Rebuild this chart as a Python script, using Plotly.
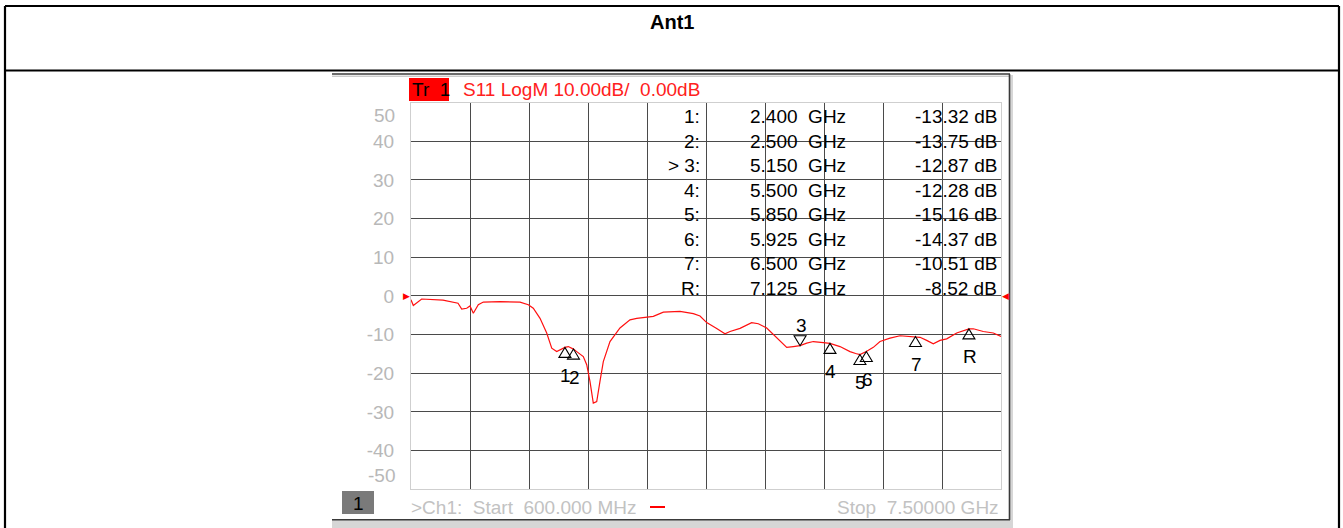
import plotly.graph_objects as go

W, H = 1343, 528

# trace (GHz, dB)
freq_ghz = [0.600, 0.627, 0.725, 0.974, 1.150, 1.193, 1.251, 1.290, 1.329, 1.387,
            1.446, 1.641, 1.875, 1.972, 2.030, 2.109, 2.187, 2.246, 2.304, 2.400,
            2.440, 2.500, 2.538, 2.615, 2.655, 2.693, 2.732, 2.772, 2.810, 2.849,
            2.927, 3.044, 3.161, 3.240, 3.434, 3.551, 3.746, 3.902, 3.980, 4.058,
            4.175, 4.272, 4.331, 4.448, 4.584, 4.662, 4.760, 4.877, 4.994, 5.071,
            5.150, 5.228, 5.305, 5.422, 5.500, 5.617, 5.734, 5.800, 5.850, 5.925,
            6.007, 6.085, 6.202, 6.319, 6.500, 6.553, 6.631, 6.708, 6.787, 6.865,
            6.982, 7.099, 7.125, 7.176, 7.293, 7.410, 7.500]
s11_db = [-1.0, -2.5, -0.8, -1.1, -1.9, -3.4, -3.2, -2.6, -4.5, -2.3,
          -1.6, -1.5, -1.6, -2.3, -3.2, -5.8, -9.6, -13.5, -14.4, -13.32,
          -13.1, -13.75, -14.4, -15.7, -17.8, -22.1, -27.7, -27.3, -22.1, -17.0,
          -11.8, -8.3, -6.2, -5.8, -5.3, -4.2, -4.0, -4.6, -5.2, -6.9,
          -8.4, -9.8, -9.2, -8.4, -6.9, -7.2, -8.3, -10.9, -13.3, -13.1,
          -12.87, -12.2, -11.8, -12.1, -12.28, -13.1, -14.4, -14.9, -15.16, -14.37,
          -13.3, -11.8, -10.9, -10.3, -10.51, -10.7, -11.5, -12.4, -11.5, -11.1,
          -9.6, -8.6, -8.52, -8.5, -9.2, -9.6, -10.5]

# markers
mk_names = ['1', '2', '3', '4', '5', '6', '7', 'R']
mk_freq = [2.400, 2.500, 5.150, 5.500, 5.850, 5.925, 6.500, 7.125]
mk_db = [-13.32, -13.75, -12.87, -12.28, -15.16, -14.37, -10.51, -8.52]
active_mk = '3'

f_start, f_stop = 0.6, 7.5
db_top, db_bot = 50, -50
n_div = 10

FONT = 'Liberation Sans, Arial, sans-serif'
NB = '\u00a0'


def px(x):
    return x / W


def py(y):
    return 1 - y / H


def label(text, x, y, anchor='left', color='black', size=19, **kw):
    # plain text placed by pixel position on the page
    d = dict(text=text, xref='paper', yref='paper', x=px(x), y=py(y), xanchor=anchor,
             yanchor='middle', showarrow=False, font=dict(family=FONT, size=size, color=color))
    d.update(kw)
    return d


fig = go.Figure()
fig.add_trace(go.Scatter(x=freq_ghz, y=s11_db, mode='lines',
                         line=dict(color='#ff1010', width=1.2),
                         hoverinfo='skip', showlegend=False))

xstep = (f_stop - f_start) / n_div
ystep = (db_top - db_bot) / n_div
xgrid = [f_start + i * xstep for i in range(1, n_div)]
ygrid = [db_bot + i * ystep for i in range(1, n_div)]

shapes = []
ann = []

# ---- outer table
for x0, y0, x1, y1 in [(5, 6, 1339, 6), (5, 6, 5, 528), (1339, 6, 1339, 528), (5, 70.5, 1339, 70.5)]:
    shapes.append(dict(type='line', xref='paper', yref='paper', x0=px(x0), y0=py(y0),
                       x1=px(x1), y1=py(y1), line=dict(color='black', width=2.2)))
ann.append(label('<b>Ant1</b>', 672, 22, anchor='center', size=20))

# ---- analyzer screen frame
shapes.append(dict(type='rect', xref='paper', yref='paper', x0=px(332), x1=px(1013),
                   y0=py(520), y1=py(528), fillcolor='#d6d6d6', line_width=0, layer='below'))
shapes.append(dict(type='rect', xref='paper', yref='paper', x0=px(1010), x1=px(1013),
                   y0=py(75), y1=py(528), fillcolor='#d6d6d6', line_width=0, layer='below'))
shapes.append(dict(type='line', xref='paper', yref='paper', x0=px(332), x1=px(1010),
                   y0=py(76.2), y1=py(76.2), line=dict(color='#b4b4b4', width=1)))
for x0, y0, x1, y1 in [(332, 74, 1010, 74), (1009.5, 74, 1009.5, 520), (332, 519.8, 1010, 519.8)]:
    shapes.append(dict(type='line', xref='paper', yref='paper', x0=px(x0), y0=py(y0),
                       x1=px(x1), y1=py(y1), line=dict(color='#3a3a3a', width=1.6)))

# ---- header bar
shapes.append(dict(type='rect', xref='paper', yref='paper', x0=px(409), x1=px(449),
                   y0=py(101), y1=py(78), fillcolor='#ff0000', line_width=0))
ann.append(label('Tr' + NB * 2 + '1', 410, 89.5))
ann.append(label('S11 LogM 10.00dB/' + NB * 2 + '0.00dB', 461, 89.5, color='#ff2020'))

# ---- footer
shapes.append(dict(type='rect', xref='paper', yref='paper', x0=px(342), x1=px(374),
                   y0=py(514), y1=py(491), fillcolor='#7a7a7a', line_width=0))
ann.append(label('1', 358, 503, anchor='center'))
ann.append(label('>Ch1:' + NB * 2 + 'Start' + NB * 2 + '600.000 MHz', 409, 507, color='#c2c2c2'))
shapes.append(dict(type='line', xref='paper', yref='paper', x0=px(650), x1=px(665),
                   y0=py(507), y1=py(507), line=dict(color='#ff0000', width=2)))
ann.append(label('Stop' + NB * 2 + '7.50000 GHz', 1001, 507, anchor='right', color='#c2c2c2'))

# ---- y labels at the plot edges
ann.append(dict(text='50', xref='paper', yref='y', x=px(397), y=db_top, xanchor='right',
                yanchor='top', yshift=-1, showarrow=False, font=dict(family=FONT, size=19, color='#b8b8b8')))
ann.append(dict(text='-50', xref='paper', yref='y', x=px(397), y=db_bot, xanchor='right',
                yanchor='bottom', yshift=1, showarrow=False, font=dict(family=FONT, size=19, color='#b8b8b8')))

# ---- reference level arrows
ann.append(dict(text='\u25b6', xref='paper', yref='y', x=px(412), y=0, xanchor='right', yanchor='middle',
                showarrow=False, font=dict(family='DejaVu Sans', size=9, color='#ff0000')))
ann.append(dict(text='\u25c0', xref='paper', yref='y', x=px(1000), y=0, xanchor='left', yanchor='middle',
                showarrow=False, font=dict(family='DejaVu Sans', size=9, color='#ff0000')))

# ---- marker table
row_y0, row_dy = 116.5, 24.5
for i, (nm, f, d) in enumerate(zip(mk_names, mk_freq, mk_db)):
    yy = row_y0 + i * row_dy
    lab = ('>' + NB if nm == active_mk else '') + nm + ':'
    ann.append(label(lab, 702, yy, anchor='right'))
    ann.append(label('%.3f' % f + NB * 2 + 'GHz', 748, yy))
    ann.append(label('%.2f dB' % d, 999, yy, anchor='right'))

# ---- marker triangles on the trace
for nm, f, d in zip(mk_names, mk_freq, mk_db):
    if nm == active_mk:
        path = 'M0,0 L-6,10 L6,10 Z'
        shift = 20
    else:
        path = 'M0,0 L-6,-10 L6,-10 Z'
        shift = -28
    shapes.append(dict(type='path', xref='x', yref='y', xsizemode='pixel', ysizemode='pixel',
                       xanchor=f, yanchor=d, path=path, line=dict(color='black', width=1.1)))
    ann.append(dict(text=nm, x=f, y=d, xref='x', yref='y', yshift=shift, xshift=1, showarrow=False,
                    xanchor='center', yanchor='middle', font=dict(family=FONT, size=19, color='black')))

fig.update_layout(
    width=W, height=H, margin=dict(l=0, r=0, t=0, b=0),
    paper_bgcolor='white', plot_bgcolor='white',
    shapes=shapes, annotations=ann, showlegend=False,
    xaxis=dict(domain=[px(411), px(1001)], range=[f_start, f_stop], tickvals=xgrid,
               showticklabels=False, ticks='', showgrid=True, gridcolor='#4a4a4a', gridwidth=1.4,
               zeroline=False, showline=True, mirror=True, linecolor='#cfcfcf', linewidth=1),
    yaxis=dict(domain=[py(489.3), py(102.5)], range=[db_bot, db_top], tickvals=ygrid,
               ticktext=['%d' % v for v in ygrid], ticks='', ticklabelstandoff=12,
               tickfont=dict(family=FONT, size=19, color='#b8b8b8'),
               showgrid=True, gridcolor='#4a4a4a', gridwidth=1.4,
               zeroline=False, showline=True, mirror=True, linecolor='#cfcfcf', linewidth=1),
)

fig.write_html("out.html", config={'displayModeBar': False},
               post_script="document.body.style.margin='0';document.body.style.overflow='hidden';")
